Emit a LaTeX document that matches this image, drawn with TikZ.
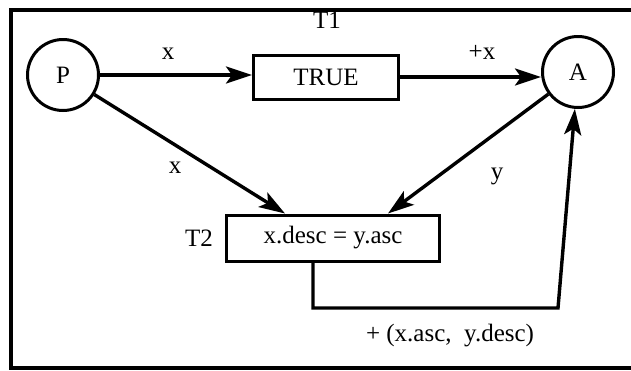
\documentclass[tikz,border=0pt]{standalone}
\usepackage{fontspec}
\setmainfont{Liberation Serif}
\usetikzlibrary{arrows.meta,calc}
\begin{document}
\begin{tikzpicture}[x=1pt,y=-1pt,
  every node/.style={font=\fontsize{25}{30}\selectfont},
  place/.style={draw,circle,line width=3pt,minimum size=71pt,inner sep=0pt},
  trans/.style={draw,rectangle,line width=3pt,inner sep=0pt},
  arr/.style={line width=3.4pt,-{Stealth[length=26pt,width=17pt,inset=6pt]}},
  lab/.style={inner sep=0pt},
  frame/.style={line width=3.2pt}]
\useasboundingbox (0,0) rectangle (631,370);
\draw[frame] (631,10) -- (11,10) -- (11,368) -- (631,368);
\node[place] (P) at (63,75) {P};
\node[place] (A) at (578,72) {A};
\node[trans,minimum width=145pt,minimum height=44pt] (T1) at (326,77) {TRUE};
\node[trans,minimum width=213pt,minimum height=46pt] (T2) at (333,238) {x.desc = y.asc};
\node[lab] (T1l) at (327,20) {T1};
\node[lab] (T2l) at (199,238) {T2};
\coordinate (c) at (558,308);
\draw[arr] (P.east) -- (P.east -| T1.west);
\draw[arr] (T1.east) -- (T1.east -| A.west);
\draw[arr] (P) -- ([xshift=60pt]T2.north west);
\draw[arr] (A) -- ([xshift=-53pt]T2.north east);
\draw[arr] ([xshift=-20pt]T2.south) |- (c) -- (A);
\node[lab] (lx1) at (168,54) {x};
\node[lab] (lx2) at (175,168) {x};
\node[lab] (lpx) at (482,52) {+x};
\node[lab] (ly) at (497,176) {y};
\node[lab] (lr) at (450,336) {+ (x.asc,\ \ y.desc)};
\end{tikzpicture}
\end{document}
